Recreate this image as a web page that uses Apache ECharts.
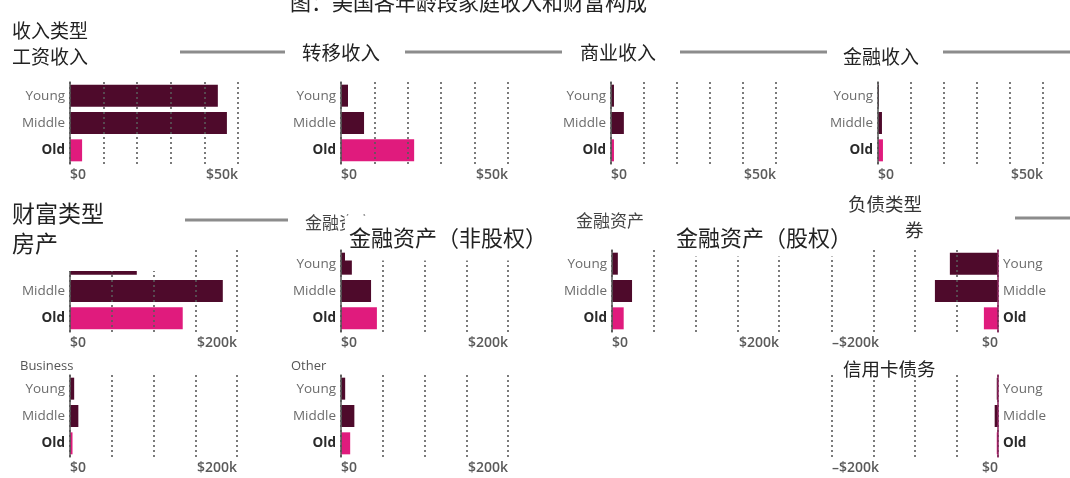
<!DOCTYPE html>
<html>
<head>
<meta charset="utf-8">
<script src="https://cdn.jsdelivr.net/npm/echarts@6/dist/echarts.min.js"></script>
<style>
  html, body { margin: 0; padding: 0; background: #fff; }
  #chart { width: 1070px; height: 478px; }
</style>
</head>
<body>
<div id="chart"></div>
<script>
// Age groups shown in every small multiple
const categories = ['Young', 'Middle', 'Old'];

// Income by type (US$ per year)
const wageIncome      = [44000, 46700, 3600];
const transferIncome  = [2100, 6900, 21900];
const businessIncome  = [900, 3900, 900];
const financialIncome = [300, 1200, 1500];

// Wealth by type (US$)
const housingWealth   = [80000, 183000, 135000];
const nonEquityAssets = [13000, 36000, 43000];
const equityAssets    = [7000, 24000, 14000];
const businessAssets  = [5000, 10000, 3000];
const otherAssets     = [5000, 16000, 11000];

// Debt by type (US$, negative)
const securedDebt     = [-58000, -76000, -17000];
const creditCardDebt  = [-1500, -4000, -1500];

// Axis scales
const incomeTicks = { min: 0, max: 50000, interval: 10000 };
const wealthTicks = { min: 0, max: 200000, interval: 50000 };
const debtTicks   = { min: -200000, max: 0, interval: 50000 };

const DARK = '#4e0a2b';
const PINK = '#e01b7d';
const LATIN = '"Open Sans", "DejaVu Sans", sans-serif';
const CJK = '"Noto Sans CJK SC", sans-serif';

function money(v) {
  if (v === 0) return '$0';
  const k = Math.abs(v) / 1000;
  return (v < 0 ? '\u2013' : '') + '$' + k + 'k';
}

// Small-multiple panels: data plus where each one sits
const panels = [
  { values: wageIncome,      ticks: incomeTicks, left: 70,  top: 82,  width: 168 },
  { values: transferIncome,  ticks: incomeTicks, left: 341, top: 82,  width: 167 },
  { values: businessIncome,  ticks: incomeTicks, left: 611, top: 82,  width: 165 },
  { values: financialIncome, ticks: incomeTicks, left: 878, top: 82,  width: 165 },
  { values: housingWealth,   ticks: wealthTicks, left: 70,  top: 250, width: 167 },
  { values: nonEquityAssets, ticks: wealthTicks, left: 341, top: 250, width: 167 },
  { values: equityAssets,    ticks: wealthTicks, left: 612, top: 250, width: 167 },
  { values: securedDebt,     ticks: debtTicks,   left: 832, top: 250, width: 166, right: true },
  { values: businessAssets,  ticks: wealthTicks, left: 70,  top: 375, width: 167 },
  { values: otherAssets,     ticks: wealthTicks, left: 341, top: 375, width: 167 },
  { values: creditCardDebt,  ticks: debtTicks,   left: 832, top: 375, width: 166, right: true }
];

const grid = [], xAxis = [], yAxis = [], series = [];
panels.forEach((p, i) => {
  grid.push({ left: p.left, top: p.top, width: p.width, height: 82, containLabel: false });
  xAxis.push({
    type: 'value', gridIndex: i,
    min: p.ticks.min, max: p.ticks.max, interval: p.ticks.interval,
    z: 5,
    axisLine: { show: false }, axisTick: { show: false },
    splitLine: { show: true, lineStyle: { color: '#5a5a5a', width: 1.6, type: [2, 3] } },
    axisLabel: {
      margin: 4, fontSize: 14, fontWeight: 600, color: '#5a5a5a', fontFamily: LATIN,
      showMinLabel: true, showMaxLabel: true,
      alignMinLabel: 'left', alignMaxLabel: 'right',
      formatter: v => (v === p.ticks.min || v === p.ticks.max) ? money(v) : ''
    }
  });
  yAxis.push({
    type: 'category', gridIndex: i, inverse: true,
    position: p.right ? 'right' : 'left',
    z: 6,
    data: categories.map((c, j) => ({
      value: c,
      textStyle: j === 2 ? { color: '#2a2a2a', fontWeight: 'bold' } : { color: '#6c6c6c' }
    })),
    axisLine: { show: true, onZero: true, lineStyle: { color: p.right ? '#8a1f5a' : '#555', width: 1.5 } },
    axisTick: { show: false },
    axisLabel: { margin: 5, fontSize: 13.5, fontFamily: LATIN }
  });
  series.push({
    type: 'bar', xAxisIndex: i, yAxisIndex: i, barWidth: 22, silent: true,
    data: p.values.map((v, j) => ({ value: v, itemStyle: { color: j === 2 ? PINK : DARK } }))
  });
});

function txt(x, y, s, size, extra, z) {
  return {
    type: 'text', x: x, y: y, z: z || 50,
    style: Object.assign({ text: s, fill: '#222', font: size + 'px ' + CJK, textVerticalAlign: 'middle' }, extra || {})
  };
}
function rule(x1, x2, y) {
  return { type: 'line', z: 40, shape: { x1: x1, y1: y, x2: x2, y2: y }, style: { stroke: '#8c8c8c', lineWidth: 3 } };
}

const graphic = [
  txt(290, 2, '图：美国各年龄段家庭收入和财富构成', 21),
  // income header
  txt(12, 31, '收入类型', 19),
  txt(12, 57, '工资收入', 19),
  rule(180, 285, 52), txt(302, 53, '转移收入', 19.5),
  rule(405, 562, 52), txt(580, 53, '商业收入', 19),
  rule(680, 827, 52), txt(843, 57, '金融收入', 19),
  rule(943, 1070, 52),
  // wealth header (the label panel sits over the top of the housing chart)
  { type: 'rect', z: 45, shape: { x: 0, y: 228, width: 190, height: 43 }, style: { fill: '#fff' } },
  txt(12, 243, '房产', 23),
  txt(12, 213, '财富类型', 23),
  rule(185, 288, 220),
  txt(305, 223, '金融资产', 17, { fill: '#444' }),
  txt(576, 221, '金融资产', 17, { fill: '#444' }),
  txt(345, 238, '金融资产（非股权）', 22, { backgroundColor: '#fff', padding: [14, 4, 9, 4] }),
  txt(672, 238, '金融资产（股权）', 22, { backgroundColor: '#fff', padding: [6, 4, 9, 4] }),
  txt(848, 204, '负债类型', 18.5, { fill: '#333' }),
  txt(905, 230, '券', 18.5, { fill: '#333' }),
  rule(1015, 1070, 218),
  // third row labels
  txt(20, 366, 'Business', 13, { fill: '#555', font: '13px ' + LATIN }),
  txt(291, 366, 'Other', 13, { fill: '#555', font: '13px ' + LATIN }),
  txt(843, 369, '信用卡债务', 18.5)
];

const chart = echarts.init(document.getElementById('chart'), null, { renderer: 'canvas' });
chart.setOption({
  animation: false,
  backgroundColor: '#fff',
  grid: grid, xAxis: xAxis, yAxis: yAxis, series: series,
  graphic: graphic
});
</script>
</body>
</html>
